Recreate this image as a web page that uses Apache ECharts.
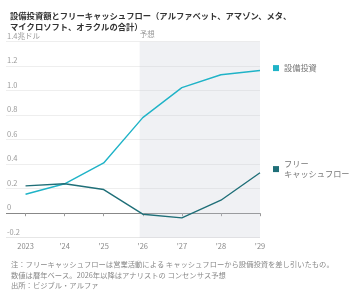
<!DOCTYPE html>
<html>
<head>
<meta charset="utf-8">
<script src="https://cdn.jsdelivr.net/npm/echarts@6/dist/echarts.min.js"></script>
<style>
  html, body { margin: 0; padding: 0; background: #fff; }
  #chart { width: 360px; height: 290px; }
</style>
</head>
<body>
<div id="chart"></div>
<script>
const years = [2023, 2024, 2025, 2026, 2027, 2028, 2029];
const yearLabels = ['2023', "'24", "'25", "'26", "'27", "'28", "'29"];
const capex = [0.155, 0.24, 0.41, 0.78, 1.025, 1.13, 1.165];
const freeCashFlow = [0.223, 0.24, 0.193, -0.008, -0.038, 0.106, 0.33];
const forecastStart = 2025.92;
const forecastEnd = 2029;

const FONT = '"Noto Sans CJK JP", "Noto Sans", sans-serif';

const chart = echarts.init(document.getElementById('chart'));

const toPairs = vals => years.map((y, i) => [y, vals[i]]);

chart.setOption({
  animation: false,
  textStyle: { fontFamily: FONT },
  title: [
    {
      text: '設備投資額とフリーキャッシュフロー（アルファベット、アマゾン、メタ、\nマイクロソフト、オラクルの合計）',
      left: 5,
      top: 5,
      textStyle: { fontSize: 8.3, fontWeight: 'bold', color: '#333', lineHeight: 11, fontFamily: FONT }
    },
    {
      text: '注：フリーキャッシュフローは営業活動による キャッシュフローから設備投資を差し引いたもの。\n数値は暦年ベース。2026年以降はアナリストの コンセンサス予想\n出所：ビジブル・アルファ',
      left: 6,
      top: 254,
      textStyle: { fontSize: 7.3, fontWeight: 'normal', color: '#888', lineHeight: 10.5, fontFamily: FONT }
    }
  ],
  legend: [
    {
      data: ['設備投資'],
      left: 268,
      top: 59,
      icon: 'rect',
      itemWidth: 6,
      itemHeight: 6,
      textStyle: { fontSize: 8.2, color: '#777', fontFamily: FONT }
    },
    {
      data: ['フリー\nキャッシュフロー'],
      left: 268,
      top: 155,
      icon: 'rect',
      itemWidth: 6,
      itemHeight: 6,
      textStyle: { fontSize: 8.2, color: '#777', lineHeight: 10, verticalAlign: 'top', padding: [-2, 0, 0, 0], fontFamily: FONT }
    }
  ],
  grid: { left: 6, right: 100, top: 41.7, bottom: 52.3 },
  xAxis: {
    type: 'value',
    min: 2022.5,
    max: 2029,
    axisLine: { show: false },
    splitLine: { show: false },
    axisTick: { show: true, customValues: years, length: 3, lineStyle: { color: '#999' } },
    axisLabel: {
      customValues: years,
      margin: 5,
      fontSize: 7.5,
      color: '#888',
      formatter: v => yearLabels[years.indexOf(Math.round(v))] || ''
    }
  },
  yAxis: {
    type: 'value',
    min: -0.2,
    max: 1.4,
    interval: 0.2,
    axisLine: { show: false },
    axisTick: { show: false },
    axisLabel: {
      inside: true,
      margin: 1,
      align: 'left',
      verticalAlign: 'bottom',
      padding: [0, 0, 2, 0],
      fontSize: 7.5,
      color: '#999',
      formatter: v => {
        const r = Math.round(v * 10) / 10;
        if (r === 1.4) return '1.4兆ドル';
        if (r === 0) return '0';
        return r.toFixed(1);
      }
    },
    splitLine: {
      lineStyle: {
        width: 1,
        color: ['#e6e6e6', '#888888', '#eeeeee', '#eeeeee', '#eeeeee', '#eeeeee', '#eeeeee', '#eeeeee', '#eeeeee']
      }
    }
  },
  series: [
    {
      name: '設備投資',
      type: 'line',
      data: toPairs(capex),
      showSymbol: false,
      color: '#1fb3c7',
      lineStyle: { width: 1.4 },
      markArea: {
        silent: true,
        itemStyle: { color: 'rgba(200,206,216,0.28)' },
        label: { show: true, position: [0, -11], fontSize: 7.5, color: '#999', fontFamily: FONT },
        data: [[
          { name: '予想', xAxis: forecastStart, yAxis: -0.2 },
          { xAxis: forecastEnd, yAxis: 1.4 }
        ]]
      }
    },
    {
      name: 'フリー\nキャッシュフロー',
      type: 'line',
      data: toPairs(freeCashFlow),
      showSymbol: false,
      color: '#1f6f78',
      lineStyle: { width: 1.4 }
    }
  ]
});
</script>
</body>
</html>
